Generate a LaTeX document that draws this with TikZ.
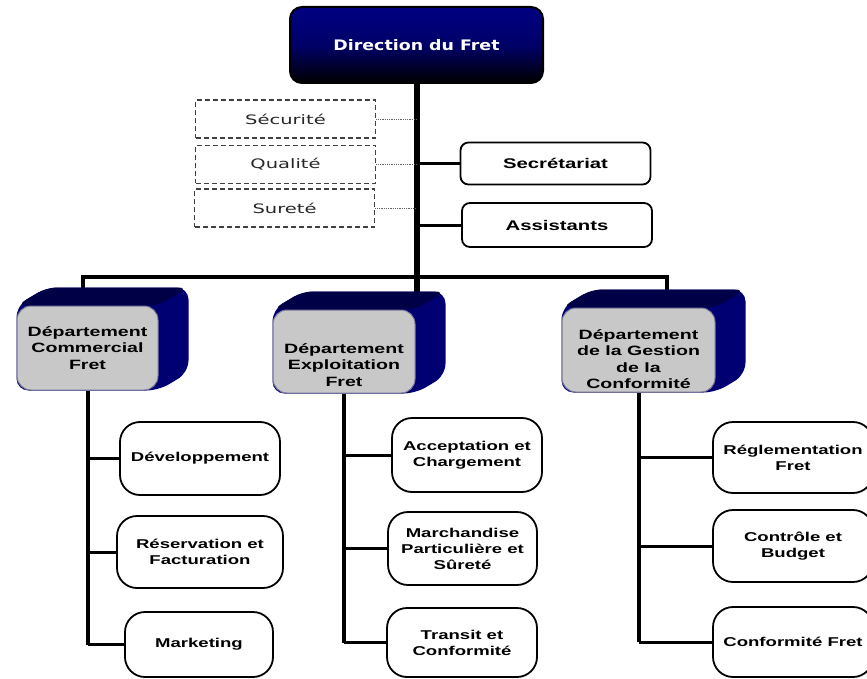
\documentclass[tikz,border=0pt]{standalone}
\usepackage{fontspec}
\setmainfont{Liberation Sans}
\newfontfamily\boxfont{Liberation Sans}[FakeStretch=1.45]
\newfontfamily\dirfont{DejaVu Sans}[FakeStretch=1.2]
\newfontfamily\thinfont{DejaVu Sans}[FakeStretch=1.5]
\usetikzlibrary{positioning, calc, backgrounds}
\pgfdeclarelayer{links}
\pgfdeclarelayer{depth}
\pgfsetlayers{links,depth,main}

\definecolor{navytop}{RGB}{0,0,130}
\definecolor{navyface}{RGB}{0,0,115}
\definecolor{navylid}{RGB}{0,0,70}
\definecolor{deptgray}{RGB}{200,200,200}
\definecolor{deptedge}{RGB}{120,120,150}

\begin{document}
\begin{tikzpicture}[x=1pt,y=-1pt,
    direction/.style={rectangle,draw=black,line width=2pt,rounded corners=12pt,
        top color=navytop,bottom color=black,middle color=navytop!80!black,
        minimum width=253pt,minimum height=76pt,text=white,
        font=\dirfont\bfseries\fontsize{14.5}{17}\selectfont},
    aux/.style={rectangle,draw=black!75,line width=1.3pt,dash pattern=on 5pt off 3pt,
        minimum width=180pt,minimum height=38pt,text=black!85,
        font=\thinfont\fontsize{13}{15}\selectfont},
    staff/.style={rectangle,draw=black,line width=1.8pt,rounded corners=8pt,fill=white,
        minimum width=190pt,minimum height=42pt,
        font=\boxfont\bfseries\fontsize{14}{16}\selectfont},
    dept/.style={rectangle,draw=deptedge,line width=1pt,fill=deptgray,rounded corners=14pt,
        minimum height=84pt,align=center,inner sep=2pt,
        font=\boxfont\bfseries\fontsize{13.5}{16.5}\selectfont},
    unit/.style={rectangle,draw=black,line width=1.8pt,fill=white,rounded corners=20pt,
        align=center,inner sep=2pt,
        font=\boxfont\bfseries\fontsize{12.8}{16}\selectfont},
    trunk/.style={line width=6pt},
    bus/.style={line width=4pt},
    stem/.style={line width=4pt},
    branch/.style={line width=3pt},
    dotlink/.style={densely dotted,draw=black!60,line width=0.8pt}]
    \useasboundingbox (0,0) rectangle (867,679);

    % Direction
    \node[direction] (top) at (416.5,45) {Direction du Fret};

    % cellules rattachees
    \node[aux] (secu) at (285.5,119) {Sécurité};
    \node[aux] (qual) at (285.5,164.5) {Qualité};
    \node[aux] (sure) at (284.5,208) {Sureté};
    \node[staff] (secr) at (555.5,163.5) {Secrétariat};
    \node[staff,minimum height=44pt] (asst) at (557,225) {Assistants};

    % Departements
    \node[dept,minimum width=141pt] (d1) at (87.5,348) {Département\\Commercial\\Fret};
    \node[dept,minimum width=142pt,minimum height=83pt,text height=70pt] (d2) at (344,351.5) {Département\\Exploitation\\Fret};
    \node[dept,minimum width=153pt,text height=78pt] (d3) at (638.5,350) {Département\\de la Gestion\\de la\\Conformité};

    % Services
    \node[unit,minimum width=160pt,minimum height=73pt] (dev) at (200,458.5) {Développement};
    \node[unit,minimum width=166pt,minimum height=72pt] (res) at (200,552) {Réservation et\\Facturation};
    \node[unit,minimum width=148pt,minimum height=65pt] (mkt) at (199,644.5) {Marketing};
    \node[unit,minimum width=150pt,minimum height=74pt] (acc) at (467,455) {Acceptation et\\Chargement};
    \node[unit,minimum width=149pt,minimum height=73pt] (mar) at (462.5,548.5) {Marchandise\\Particulière et\\Sûreté};
    \node[unit,minimum width=150pt,minimum height=69pt] (tra) at (462,642.5) {Transit et\\Conformité};
    \node[unit,minimum width=160pt,minimum height=71pt] (reg) at (793,457.5) {Réglementation\\Fret};
    \node[unit,minimum width=160pt,minimum height=72pt] (ctl) at (793,546) {Contrôle et\\Budget};
    \node[unit,minimum width=160pt,minimum height=70pt] (cnf) at (793,642) {Conformité Fret};

    % relief des departements
    \begin{pgfonlayer}{depth}
    \foreach \d in {d1,d2,d3} {
        \fill[navyface,rounded corners=12pt] (\d.north west) -- ([shift={(30,-18)}]\d.north west)
            -- ([shift={(30,-18)}]\d.north east) -- ([shift={(30,-18)}]\d.south east)
            -- (\d.south east) -- (\d.south west) -- cycle;
        \fill[navylid,rounded corners=10pt] (\d.north west) -- ([shift={(30,-18)}]\d.north west)
            -- ([shift={(30,-18)}]\d.north east) -- (\d.north east) -- cycle;
    }
    \end{pgfonlayer}

    % liaisons
    \begin{pgfonlayer}{links}
    \coordinate (busW) at (83,277);
    \coordinate (busE) at (667,277);
    \draw[trunk] (top.south) -- (top.south |- d2.north);
    \draw[bus] (d1.north -| busW) -- (busW) -- (busE) -- (busE |- d3.north);
    \foreach \a in {secu,qual,sure}
        \draw[dotlink] (\a.east) -- (\a.east -| top.south);
    \foreach \a in {secr,asst}
        \draw[branch] (\a.west -| top.south) -- (\a.west);
    \draw[stem] (d1.south) -- (d1.south |- mkt.west);
    \draw[stem] (d2.south) -- (d2.south |- tra.west);
    \draw[stem] (d3.south) -- (d3.south |- cnf.west);
    \foreach \d/\u in {d1/dev,d1/res,d1/mkt,d2/acc,d2/mar,d2/tra,d3/reg,d3/ctl,d3/cnf}
        \draw[branch] (\u.west -| \d.south) -- (\u.west);
    \end{pgfonlayer}
\end{tikzpicture}
\end{document}
